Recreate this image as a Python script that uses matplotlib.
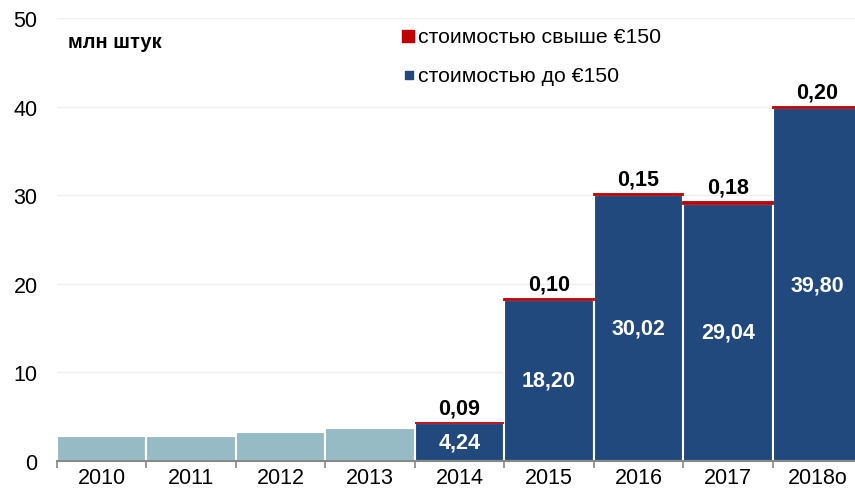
import numpy as np
import matplotlib.pyplot as plt
from matplotlib.ticker import FixedLocator

plt.rcParams['font.family'] = ['Liberation Sans', 'DejaVu Sans']

# data
years = ['2010', '2011', '2012', '2013', '2014', '2015', '2016', '2017', '2018о']
total_old = [2.82, 2.85, 3.24, 3.76]          # 2010-2013, без разбивки
low = [4.24, 18.20, 30.02, 29.04, 39.80]       # стоимостью до €150
high = [0.09, 0.10, 0.15, 0.18, 0.20]          # стоимостью свыше €150

c_light = '#96BBC4'
c_blue = '#21497D'
c_red = '#C00000'

fig = plt.figure(figsize=(8.55, 4.89), dpi=100)
# the last bar runs a little past the right edge of the picture
ax = fig.add_axes([0.0667, 0.0552, 0.9415, 0.906])

x = np.arange(len(years))
x_old = x[:4]
x_new = x[4:]

ax.bar(x_old, total_old, width=1.0, color=c_light, edgecolor='white', linewidth=1.5, zorder=2)
ax.bar(x_new, low, width=1.0, color=c_blue, edgecolor='white', linewidth=1.5, zorder=2)
ax.bar(x_new, high, width=1.0, bottom=low, color=c_red, edgecolor=c_red, linewidth=1.3, zorder=3)

for xi, lo, hi in zip(x_new, low, high):
    ax.text(xi, lo / 2, f'{lo:.2f}'.replace('.', ','), ha='center', va='center',
            color='white', fontsize=15.5, fontweight='bold', zorder=4)
    ax.annotate(f'{hi:.2f}'.replace('.', ','), (xi, lo + hi), xytext=(0, 3),
                textcoords='offset points', ha='center', va='bottom',
                fontsize=15.5, fontweight='bold', color='black', zorder=4)

ax.set_xlim(-0.5, len(years) - 0.5)
ax.set_ylim(0, 50)
ax.set_yticks([0, 10, 20, 30, 40, 50])
ax.set_xticks(x)
ax.set_xticklabels(years)
ax.xaxis.set_minor_locator(FixedLocator(np.arange(-0.5, len(years), 1.0)))
ax.tick_params(axis='x', which='major', length=0, labelsize=15.5, pad=4)
ax.tick_params(axis='x', which='minor', length=5, width=1.2, color='#888888', direction='out')
ax.tick_params(axis='y', length=0, labelsize=15.5, pad=14)

for s in ['top', 'right', 'left']:
    ax.spines[s].set_visible(False)
ax.spines['bottom'].set_color('#888888')
ax.spines['bottom'].set_linewidth(1.5)
ax.spines['bottom'].set_zorder(5)

ax.yaxis.grid(True, color='#EEEEEE', linewidth=1, zorder=0)
ax.set_axisbelow(True)

ax.text(0.014, 0.948, 'млн штук', transform=ax.transAxes, fontsize=14.5,
        fontweight='bold', va='center', ha='left')

# legend
ax.scatter([0.436], [0.959], marker='s', s=75, color=c_red, transform=ax.transAxes, clip_on=False, zorder=5)
ax.text(0.4484, 0.959, 'стоимостью свыше €150', transform=ax.transAxes, fontsize=15.3, va='center')
ax.scatter([0.437], [0.871], marker='s', s=40, color=c_blue, transform=ax.transAxes, clip_on=False, zorder=5)
ax.text(0.4484, 0.871, 'стоимостью до €150', transform=ax.transAxes, fontsize=15.3, va='center')

fig.savefig('out.png', dpi=100)
